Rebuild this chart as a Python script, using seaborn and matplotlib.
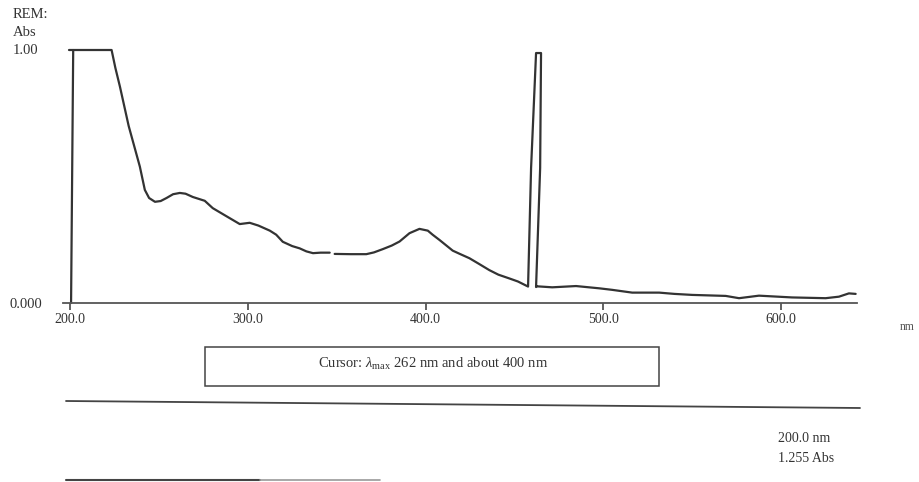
import matplotlib
matplotlib.use("Agg")
import matplotlib.pyplot as plt
import seaborn as sns
import pandas as pd
from matplotlib.patches import Rectangle
from matplotlib.lines import Line2D

# ---- data ----
wavelength = [200.6, 201.8, 223.4, 225.5, 228.1, 233.0, 239.3, 242.1, 244.5, 247.8,
              251.0, 254.3, 258.0, 261.8, 265.0, 269.1, 275.8, 280.3, 288.0, 295.5,
              301.1, 306.0, 312.4, 316.0, 319.7, 325.0, 329.2, 333.0, 336.7, 341.0,
              346.1,
              348.9, 358.0, 366.7, 371.0, 376.0, 381.0, 385.4, 391.0, 396.6, 401.3,
              404.0, 407.9, 415.3, 419.0, 424.7, 430.0, 435.9, 441.0, 447.2, 452.0,
              457.7, 459.4, 462.2, 465.0, 464.5, 462.2, 462.6, 471.3, 484.7, 497.8,
              505.0, 516.3, 531.5, 540.0, 550.0, 568.9, 576.4, 587.6, 606.2, 625.1,
              632.6, 638.2, 642.0,
              199.2, 201.8]
absorbance = [0.000, 1.000, 1.000, 0.930, 0.855, 0.700, 0.539, 0.447, 0.415, 0.400,
              0.403, 0.415, 0.430, 0.435, 0.432, 0.419, 0.404, 0.375, 0.343, 0.312,
              0.317, 0.306, 0.286, 0.270, 0.242, 0.225, 0.216, 0.204, 0.197, 0.199,
              0.199,
              0.194, 0.193, 0.193, 0.200, 0.213, 0.227, 0.243, 0.276, 0.293, 0.286,
              0.270, 0.249, 0.207, 0.195, 0.177, 0.155, 0.130, 0.112, 0.097, 0.085,
              0.065, 0.534, 0.988, 0.988, 0.534, 0.063, 0.066, 0.062, 0.067, 0.058,
              0.052, 0.041, 0.041, 0.036, 0.032, 0.028, 0.019, 0.029, 0.022, 0.019,
              0.025, 0.038, 0.036,
              1.000, 1.000]
segment = [0] * 31 + [1] * 43 + [2] * 2

x_ticks = [200, 300, 400, 500, 600]
x_tick_labels = ["200.0", "300.0", "400.0", "500.0", "600.0"]

df = pd.DataFrame({"nm": wavelength, "abs": absorbance, "seg": segment})

# ---- styling ----
sns.set_theme(style="white")
plt.rcParams["font.family"] = ["Liberation Serif", "DejaVu Serif"]
plt.rcParams["mathtext.fontset"] = "custom"
plt.rcParams["mathtext.rm"] = "Liberation Serif"
plt.rcParams["mathtext.it"] = "Liberation Serif:italic"

W, H = 920, 482
fig = plt.figure(figsize=(W / 100, H / 100), dpi=100)
fig.patch.set_facecolor("white")

def fx(px):
    return px / W

def fy(py):
    return 1 - py / H

ax = fig.add_axes([fx(63), fy(303), (857 - 63) / W, (303 - 50) / H])
ax.set_facecolor("white")

ink = "#333333"
sns.lineplot(data=df, x="nm", y="abs", units="seg", estimator=None, sort=False,
             color=ink, linewidth=1.6, ax=ax)

px_per_nm = (781 - 70) / 400.0
ax.set_xlim(200 - 7 / px_per_nm, 200 + 787 / px_per_nm)
ax.set_ylim(0, 1.0)
for line in ax.lines:
    line.set_clip_on(False)

for s in ["left", "right", "top"]:
    ax.spines[s].set_visible(False)
ax.spines["bottom"].set_color("#555555")
ax.spines["bottom"].set_linewidth(1.3)
ax.set_xticks(x_ticks)
ax.set_xticklabels(x_tick_labels)
ax.tick_params(axis="x", direction="out", length=5, width=1.3, color="#555555",
               pad=2, labelsize=10, labelcolor=ink, bottom=True)
ax.set_yticks([])
ax.set_xlabel("")
ax.set_ylabel("")
ax.grid(False)

# ---- surrounding texts ----
fs = 10.5
fig.text(fx(13), fy(15), "REM:", fontsize=fs, color=ink, va="center", ha="left")
fig.text(fx(13), fy(33), "Abs", fontsize=fs, color=ink, va="center", ha="left")
fig.text(fx(13), fy(51), "1.00", fontsize=fs, color=ink, va="center", ha="left")
fig.text(fx(10), fy(304), "0.000", fontsize=fs, color=ink, va="center", ha="left")
fig.text(fx(907), fy(327), "nm", fontsize=8.5, color="#555555", va="center", ha="center")

# cursor box
fig.patches.append(Rectangle((fx(205), fy(386)), (659 - 205) / W, (386 - 347) / H,
                             transform=fig.transFigure, fill=False,
                             edgecolor="#444444", linewidth=1.1))
fig.text(fx(433), fy(364), r"Cursor: $\lambda_{\mathrm{max}}$ 262 nm and about 400 nm",
         fontsize=10.5, color=ink, va="center", ha="center")

# rules
fig.lines.append(Line2D([fx(66), fx(860)], [fy(401), fy(408)], transform=fig.transFigure,
                        color="#444444", linewidth=1.3))
fig.lines.append(Line2D([fx(66), fx(260)], [fy(480), fy(480)], transform=fig.transFigure,
                        color="#444444", linewidth=1.5))
fig.lines.append(Line2D([fx(260), fx(380)], [fy(480), fy(480)], transform=fig.transFigure,
                        color="#999999", linewidth=1.2))

fig.text(fx(778), fy(438), "200.0 nm", fontsize=10, color=ink, va="center", ha="left")
fig.text(fx(778), fy(458), "1.255 Abs", fontsize=10, color=ink, va="center", ha="left")

fig.savefig("out.png", dpi=100, facecolor="white")
